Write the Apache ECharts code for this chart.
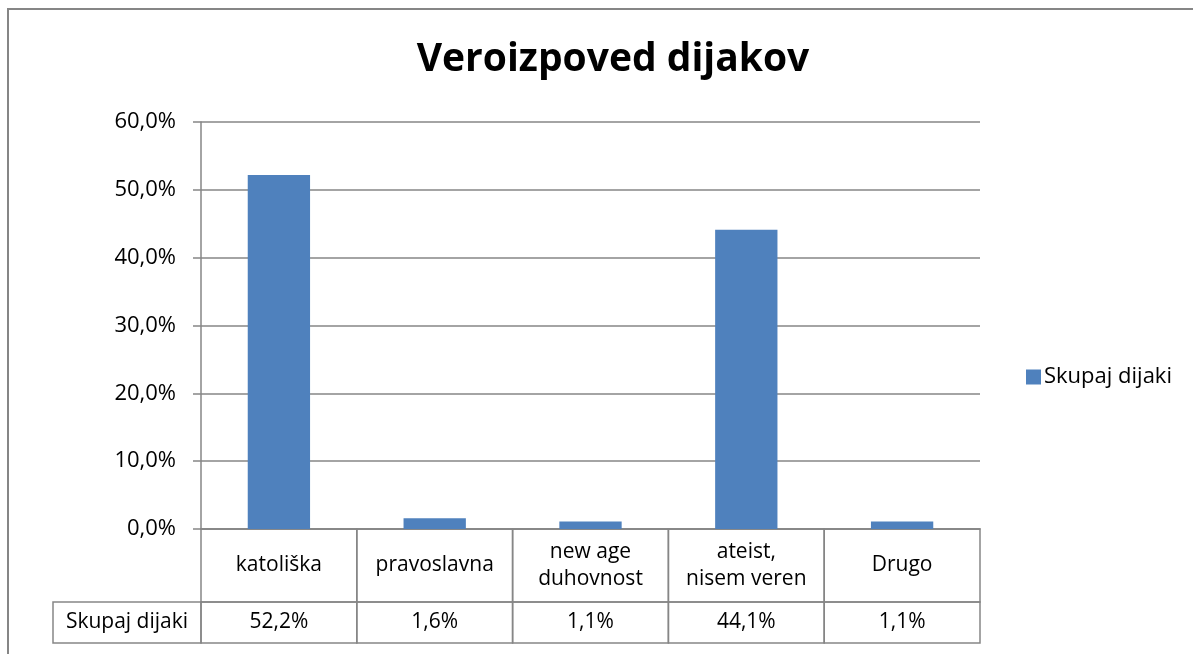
<!DOCTYPE html>
<html>
<head>
<meta charset="utf-8">
<script src="https://cdn.jsdelivr.net/npm/echarts@6/dist/echarts.min.js"></script>
<style>
  html, body { margin: 0; padding: 0; background: #fff; }
  #chart { width: 1193px; height: 654px; }
</style>
</head>
<body>
<div id="chart"></div>
<script>
// podatki
const categories = ['katoliška', 'pravoslavna', 'new age\nduhovnost', 'ateist,\nnisem veren', 'Drugo'];
const values = [52.2, 1.6, 1.1, 44.1, 1.1];
const seriesName = 'Skupaj dijaki';
const yTicks = { min: 0, max: 60, interval: 10 };

const FONT = '"Open Sans", sans-serif';
const GREY = '#868686';
const fmt = v => v.toFixed(1).replace('.', ',') + '%';

const chart = echarts.init(document.getElementById('chart'));

// tabela pod grafom: celica kategorije + celica vrednosti
function renderTable(params, api) {
  const idx = api.value(0);
  const cs = params.coordSys;
  const c = api.coord([idx, 0]);
  const bw = api.size([1, 0])[0];
  const x0 = c[0] - bw / 2;
  const top = cs.y;
  const mid = cs.y + 73;
  const bottom = cs.y + cs.height;
  const line = { stroke: GREY, lineWidth: 1.5, fill: null };
  const txt = { fill: '#000', font: '21px ' + FONT, align: 'center', verticalAlign: 'middle' };
  const children = [
    { type: 'rect', shape: { x: x0, y: top, width: bw, height: mid - top }, style: line },
    { type: 'rect', shape: { x: x0, y: mid, width: bw, height: bottom - mid }, style: line },
    { type: 'text', style: Object.assign({ x: c[0], y: (top + mid) / 2, text: categories[idx], lineHeight: 27 }, txt) },
    { type: 'text', style: Object.assign({ x: c[0], y: (mid + bottom) / 2, text: fmt(values[idx]) }, txt) }
  ];
  if (idx === 0) {
    children.push(
      { type: 'rect', shape: { x: cs.x - 148, y: mid, width: 148, height: bottom - mid }, style: line },
      { type: 'text', style: Object.assign({ x: cs.x - 74, y: (mid + bottom) / 2, text: seriesName }, txt) }
    );
  }
  return { type: 'group', children: children };
}

chart.setOption({
  animation: false,
  textStyle: { fontFamily: FONT },
  title: {
    text: 'Veroizpoved dijakov',
    left: 608,
    top: 35,
    textAlign: 'center',
    textStyle: { fontSize: 39, fontWeight: 'bold', color: '#000', fontFamily: FONT }
  },
  graphic: [{
    type: 'rect',
    shape: { x: 8, y: 9, width: 1300, height: 800 },
    style: { fill: null, stroke: GREY, lineWidth: 2 },
    silent: true
  }],
  legend: {
    data: [seriesName],
    left: 1021,
    top: 361,
    orient: 'vertical',
    icon: 'rect',
    itemWidth: 15,
    itemHeight: 15,
    itemGap: 5,
    textStyle: { fontSize: 22, color: '#000', fontFamily: FONT, padding: [0, 0, 0, -2] }
  },
  grid: [
    { left: 201, top: 122, width: 779, height: 407 },
    { left: 201, top: 529, width: 779, height: 114 }
  ],
  xAxis: [
    {
      type: 'category', gridIndex: 0, data: categories,
      axisLine: { show: true, lineStyle: { color: GREY, width: 1.5 } },
      axisTick: { show: false },
      axisLabel: { show: false }
    },
    {
      type: 'category', gridIndex: 1, data: categories,
      axisLine: { show: false }, axisTick: { show: false }, axisLabel: { show: false }
    }
  ],
  yAxis: [
    {
      type: 'value', gridIndex: 0,
      min: yTicks.min, max: yTicks.max, interval: yTicks.interval,
      axisLine: { show: true, lineStyle: { color: GREY, width: 1.5 } },
      axisTick: { show: true, length: 8, lineStyle: { color: GREY, width: 1.5 } },
      axisLabel: { formatter: fmt, fontSize: 22, color: '#000', margin: 25, fontFamily: FONT },
      splitLine: { lineStyle: { color: GREY, width: 1.5 } }
    },
    {
      type: 'value', gridIndex: 1, min: 0, max: 1, show: false
    }
  ],
  series: [
    {
      name: seriesName,
      type: 'bar',
      xAxisIndex: 0, yAxisIndex: 0,
      data: values,
      barWidth: '40%',
      itemStyle: { color: '#4F81BD' }
    },
    {
      type: 'custom',
      xAxisIndex: 1, yAxisIndex: 1,
      data: categories.map((c, i) => [i]),
      renderItem: renderTable,
      silent: true
    }
  ]
});
</script>
</body>
</html>
